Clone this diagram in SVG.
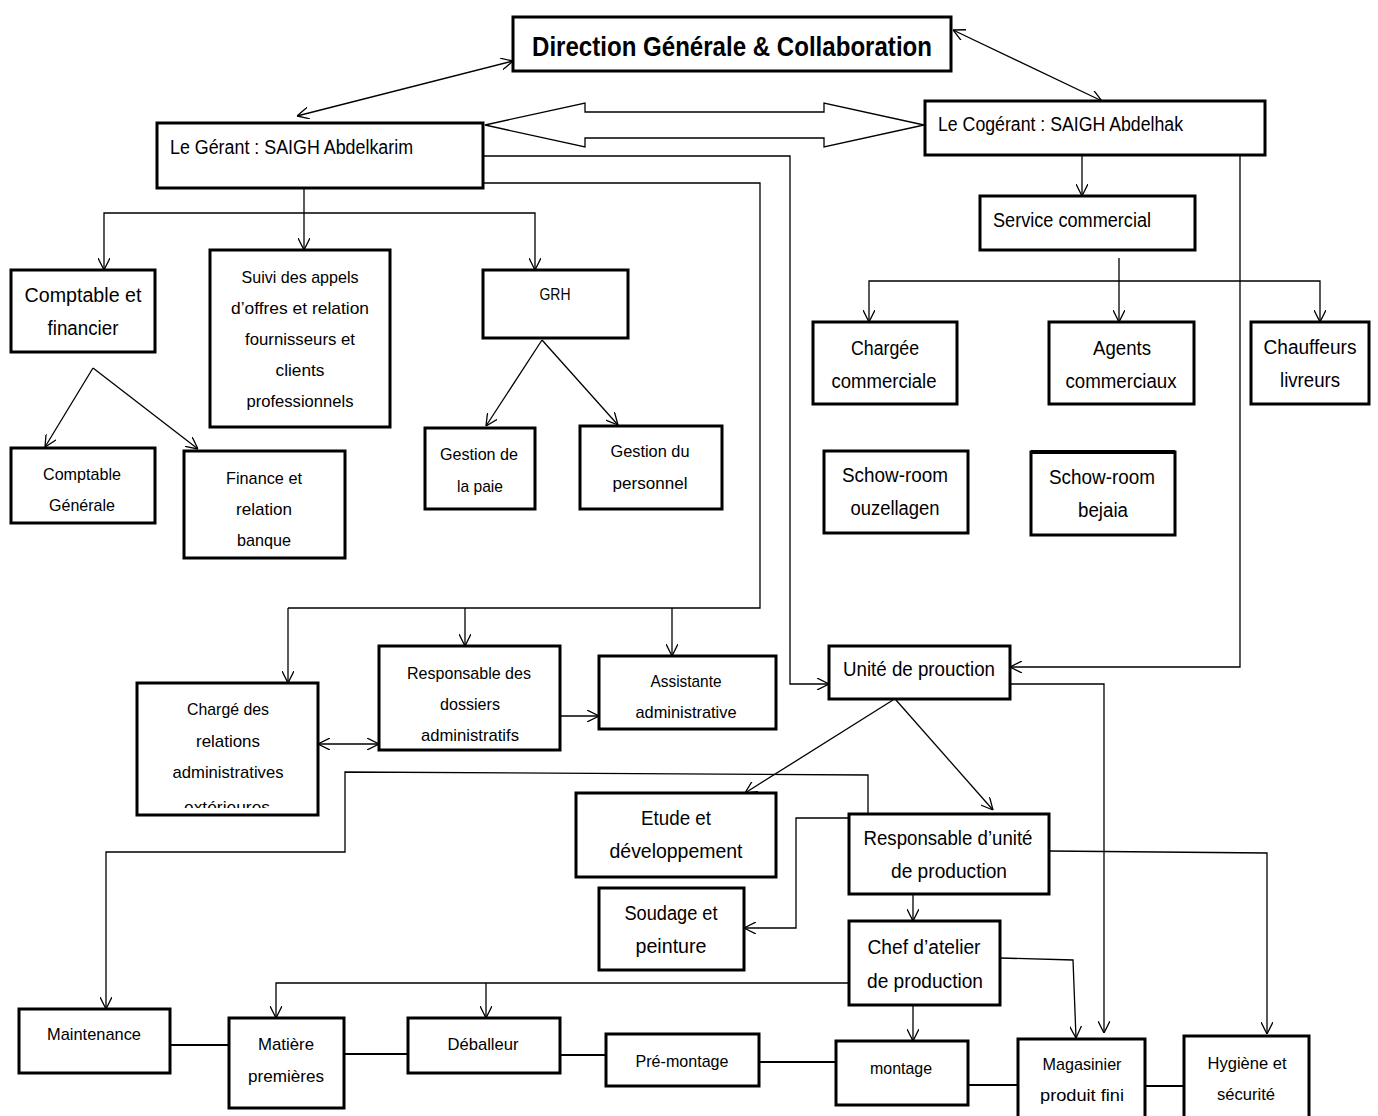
<svg xmlns="http://www.w3.org/2000/svg" width="1378" height="1116" viewBox="0 0 1378 1116">
<style>
.box{fill:#fff;stroke:#000;stroke-width:3}
.c{fill:none;stroke:#000;stroke-width:1.3}
.l{fill:none;stroke:#000;stroke-width:2}
text{font-family:"Liberation Sans","DejaVu Sans",sans-serif;fill:#000}
.t20{font-size:20px}
.t17{font-size:17px}
.m{text-anchor:middle}
</style>
<defs>
<marker id="a" viewBox="0 0 12 12" refX="12" refY="6" markerWidth="12" markerHeight="12" markerUnits="userSpaceOnUse" orient="auto-start-reverse">
<path d="M0,0 L12,6 L0,12" fill="none" stroke="#000" stroke-width="1.3"/>
</marker>
<clipPath id="clipExt"><rect x="137" y="780" width="181" height="28"/></clipPath>
</defs>
<rect width="1378" height="1116" fill="#fff"/>

<g id="connectors">
<line class="c" x1="513" y1="61" x2="297" y2="116" marker-start="url(#a)" marker-end="url(#a)"/>
<line class="c" x1="953" y1="30" x2="1102" y2="101" marker-start="url(#a)" marker-end="url(#a)"/>
<polygon class="c" points="485,125 585,103 585,112 824,112 824,103 924,125 824,147 824,138 585,138 585,147"/>
<polyline class="c" points="483,156 790,156 790,684 829,684" marker-end="url(#a)"/>
<polyline class="c" points="483,183 760,183 760,608 288,608"/>
<line class="c" x1="288" y1="608" x2="288" y2="683" marker-end="url(#a)"/>
<line class="c" x1="465" y1="608" x2="465" y2="646" marker-end="url(#a)"/>
<line class="c" x1="672" y1="608" x2="672" y2="656" marker-end="url(#a)"/>
<line class="c" x1="304" y1="188" x2="304" y2="250" marker-end="url(#a)"/>
<polyline class="c" points="104,270 104,213 535,213 535,270" marker-start="url(#a)" marker-end="url(#a)"/>
<line class="c" x1="93" y1="368" x2="45" y2="447" marker-end="url(#a)"/>
<line class="c" x1="93" y1="368" x2="198" y2="449" marker-end="url(#a)"/>
<line class="c" x1="542" y1="340" x2="486" y2="426" marker-end="url(#a)"/>
<line class="c" x1="542" y1="340" x2="618" y2="425" marker-end="url(#a)"/>
<line class="c" x1="1082" y1="155" x2="1082" y2="196" marker-end="url(#a)"/>
<polyline class="c" points="1240,155 1240,667 1010,667" marker-end="url(#a)"/>
<line class="c" x1="1119" y1="258" x2="1119" y2="322" marker-end="url(#a)"/>
<polyline class="c" points="869,322 869,281 1320,281 1320,322" marker-start="url(#a)" marker-end="url(#a)"/>
<polyline class="c" points="1010,684 1104,684 1104,1033" marker-end="url(#a)"/>
<line class="c" x1="893" y1="700" x2="745" y2="793" marker-end="url(#a)"/>
<line class="c" x1="896" y1="700" x2="993" y2="810" marker-end="url(#a)"/>
<polyline class="c" points="868,814 868,775 345,772 345,852 106,852 106,1009" marker-end="url(#a)"/>
<polyline class="c" points="849,818 796,818 796,928 744,928" marker-end="url(#a)"/>
<polyline class="c" points="1049,851 1267,853 1267,1034" marker-end="url(#a)"/>
<line class="c" x1="913" y1="894" x2="913" y2="921" marker-end="url(#a)"/>
<polyline class="c" points="1000,958 1073,960 1076,1038" marker-end="url(#a)"/>
<polyline class="c" points="849,983 276,983 276,1018" marker-end="url(#a)"/>
<line class="c" x1="486" y1="983" x2="486" y2="1018" marker-end="url(#a)"/>
<line class="c" x1="913" y1="1005" x2="913" y2="1041" marker-end="url(#a)"/>
<line class="c" x1="318" y1="744" x2="379" y2="744" marker-start="url(#a)" marker-end="url(#a)"/>
<line class="c" x1="560" y1="716" x2="599" y2="716" marker-end="url(#a)"/>
<line class="l" x1="170" y1="1045" x2="229" y2="1045"/>
<line class="l" x1="344" y1="1054" x2="408" y2="1054"/>
<line class="l" x1="560" y1="1055" x2="606" y2="1055"/>
<line class="l" x1="759" y1="1062" x2="836" y2="1062"/>
<line class="l" x1="968" y1="1085" x2="1018" y2="1085"/>
<line class="l" x1="1145" y1="1086" x2="1184" y2="1086"/>
</g>

<g id="direction"><rect class="box" x="513" y="17" width="438" height="54"/><text x="732" y="56" class="m" font-size="27" font-weight="bold" textLength="400" lengthAdjust="spacingAndGlyphs">Direction Générale &amp; Collaboration</text></g>
<g id="gerant"><rect class="box" x="157" y="123" width="326" height="65"/><text x="170" y="154" class="t20" textLength="243" lengthAdjust="spacingAndGlyphs">Le Gérant : SAIGH Abdelkarim</text></g>
<g id="cogerant"><rect class="box" x="925" y="101" width="340" height="54"/><text x="938" y="131" class="t20" textLength="245" lengthAdjust="spacingAndGlyphs">Le Cogérant : SAIGH Abdelhak</text></g>
<g id="service-commercial"><rect class="box" x="980" y="196" width="215" height="54"/><text x="993" y="227" class="t20" textLength="158" lengthAdjust="spacingAndGlyphs">Service commercial</text></g>
<g id="comptable-financier"><rect class="box" x="11" y="270" width="144" height="82"/><text x="83" y="302" class="t20 m" textLength="117" lengthAdjust="spacingAndGlyphs">Comptable  et</text><text x="83" y="335" class="t20 m" textLength="71" lengthAdjust="spacingAndGlyphs">financier</text></g>
<g id="suivi"><rect class="box" x="210" y="250" width="180" height="177"/>
<text x="300" y="283" class="t17 m" textLength="117" lengthAdjust="spacingAndGlyphs">Suivi des appels</text>
<text x="300" y="314" class="t17 m" textLength="138" lengthAdjust="spacingAndGlyphs">d’offres et relation</text>
<text x="300" y="345" class="t17 m" textLength="110" lengthAdjust="spacingAndGlyphs">fournisseurs et</text>
<text x="300" y="376" class="t17 m" textLength="49" lengthAdjust="spacingAndGlyphs">clients</text>
<text x="300" y="407" class="t17 m" textLength="107" lengthAdjust="spacingAndGlyphs">professionnels</text></g>
<g id="grh"><rect class="box" x="483" y="270" width="145" height="68"/><text x="555" y="300" class="t17 m" textLength="31" lengthAdjust="spacingAndGlyphs">GRH</text></g>
<g id="comptable-generale"><rect class="box" x="11" y="448" width="144" height="75"/><text x="82" y="480" class="t17 m" textLength="78" lengthAdjust="spacingAndGlyphs">Comptable</text><text x="82" y="511" class="t17 m" textLength="66" lengthAdjust="spacingAndGlyphs">Générale</text></g>
<g id="finance-banque"><rect class="box" x="184" y="451" width="161" height="107"/><text x="264" y="484" class="t17 m" textLength="76" lengthAdjust="spacingAndGlyphs">Finance et</text><text x="264" y="515" class="t17 m" textLength="56" lengthAdjust="spacingAndGlyphs">relation</text><text x="264" y="546" class="t17 m" textLength="54" lengthAdjust="spacingAndGlyphs">banque</text></g>
<g id="gestion-paie"><rect class="box" x="425" y="428" width="110" height="81"/><text x="479" y="460" class="t17 m" textLength="78" lengthAdjust="spacingAndGlyphs">Gestion de</text><text x="480" y="492" class="t17 m" textLength="46" lengthAdjust="spacingAndGlyphs">la paie</text></g>
<g id="gestion-personnel"><rect class="box" x="580" y="426" width="142" height="83"/><text x="650" y="457" class="t17 m" textLength="79" lengthAdjust="spacingAndGlyphs">Gestion du</text><text x="650" y="489" class="t17 m" textLength="75" lengthAdjust="spacingAndGlyphs">personnel</text></g>
<g id="chargee-commerciale"><rect class="box" x="813" y="322" width="144" height="82"/><text x="885" y="355" class="t20 m" textLength="68" lengthAdjust="spacingAndGlyphs">Chargée</text><text x="884" y="388" class="t20 m" textLength="105" lengthAdjust="spacingAndGlyphs">commerciale</text></g>
<g id="agents-commerciaux"><rect class="box" x="1049" y="322" width="145" height="82"/><text x="1122" y="355" class="t20 m" textLength="58" lengthAdjust="spacingAndGlyphs">Agents</text><text x="1121" y="388" class="t20 m" textLength="111" lengthAdjust="spacingAndGlyphs">commerciaux</text></g>
<g id="chauffeurs-livreurs"><rect class="box" x="1251" y="322" width="118" height="82"/><text x="1310" y="354" class="t20 m" textLength="93" lengthAdjust="spacingAndGlyphs">Chauffeurs</text><text x="1310" y="387" class="t20 m" textLength="60" lengthAdjust="spacingAndGlyphs">livreurs</text></g>
<g id="showroom-ouzellagen"><rect class="box" x="824" y="451" width="144" height="82"/><text x="895" y="482" class="t20 m" textLength="106" lengthAdjust="spacingAndGlyphs">Schow-room</text><text x="895" y="515" class="t20 m" textLength="89" lengthAdjust="spacingAndGlyphs">ouzellagen</text></g>
<g id="showroom-bejaia"><rect class="box" x="1031" y="452" width="144" height="83"/><line x1="1031" y1="452" x2="1175" y2="452" stroke="#000" stroke-width="4"/><text x="1102" y="484" class="t20 m" textLength="106" lengthAdjust="spacingAndGlyphs">Schow-room</text><text x="1103" y="517" class="t20 m" textLength="50" lengthAdjust="spacingAndGlyphs">bejaia</text></g>
<g id="charge-relations"><rect class="box" x="137" y="683" width="181" height="132"/>
<text x="228" y="715" class="t17 m" textLength="82" lengthAdjust="spacingAndGlyphs">Chargé des</text>
<text x="228" y="747" class="t17 m" textLength="64" lengthAdjust="spacingAndGlyphs">relations</text>
<text x="228" y="778" class="t17 m" textLength="111" lengthAdjust="spacingAndGlyphs">administratives</text>
<text x="227" y="813" class="t17 m" textLength="86" lengthAdjust="spacingAndGlyphs" clip-path="url(#clipExt)">extérieures</text></g>
<g id="responsable-dossiers"><rect class="box" x="379" y="646" width="181" height="104"/><text x="469" y="679" class="t17 m" textLength="124" lengthAdjust="spacingAndGlyphs">Responsable des</text><text x="470" y="710" class="t17 m" textLength="60" lengthAdjust="spacingAndGlyphs">dossiers</text><text x="470" y="741" class="t17 m" textLength="98" lengthAdjust="spacingAndGlyphs">administratifs</text></g>
<g id="assistante"><rect class="box" x="599" y="656" width="177" height="73"/><text x="686" y="687" class="t17 m" textLength="71" lengthAdjust="spacingAndGlyphs">Assistante</text><text x="686" y="718" class="t17 m" textLength="101" lengthAdjust="spacingAndGlyphs">administrative</text></g>
<g id="unite-production"><rect class="box" x="829" y="646" width="181" height="53"/><text x="919" y="676" class="t20 m" textLength="152" lengthAdjust="spacingAndGlyphs">Unité de prouction</text></g>
<g id="etude"><rect class="box" x="576" y="793" width="200" height="84"/><text x="676" y="825" class="t20 m" textLength="70" lengthAdjust="spacingAndGlyphs">Etude et</text><text x="676" y="858" class="t20 m" textLength="133" lengthAdjust="spacingAndGlyphs">développement</text></g>
<g id="responsable-unite"><rect class="box" x="849" y="814" width="200" height="80"/><text x="948" y="845" class="t20 m" textLength="169" lengthAdjust="spacingAndGlyphs">Responsable d’unité</text><text x="949" y="878" class="t20 m" textLength="116" lengthAdjust="spacingAndGlyphs">de production</text></g>
<g id="soudage"><rect class="box" x="599" y="888" width="145" height="82"/><text x="671" y="920" class="t20 m" textLength="93" lengthAdjust="spacingAndGlyphs">Soudage et</text><text x="671" y="953" class="t20 m" textLength="71" lengthAdjust="spacingAndGlyphs">peinture</text></g>
<g id="chef-atelier"><rect class="box" x="849" y="921" width="151" height="84"/><text x="924" y="954" class="t20 m" textLength="113" lengthAdjust="spacingAndGlyphs">Chef d’atelier</text><text x="925" y="988" class="t20 m" textLength="116" lengthAdjust="spacingAndGlyphs">de production</text></g>
<g id="maintenance"><rect class="box" x="19" y="1009" width="151" height="64"/><text x="94" y="1040" class="t17 m" textLength="94" lengthAdjust="spacingAndGlyphs">Maintenance</text></g>
<g id="matiere"><rect class="box" x="229" y="1018" width="115" height="90"/><text x="286" y="1050" class="t17 m" textLength="56" lengthAdjust="spacingAndGlyphs">Matière</text><text x="286" y="1082" class="t17 m" textLength="76" lengthAdjust="spacingAndGlyphs">premières</text></g>
<g id="deballeur"><rect class="box" x="408" y="1018" width="152" height="55"/><text x="483" y="1050" class="t17 m" textLength="71" lengthAdjust="spacingAndGlyphs">Déballeur</text></g>
<g id="pre-montage"><rect class="box" x="606" y="1034" width="153" height="52"/><text x="682" y="1067" class="t17 m" textLength="93" lengthAdjust="spacingAndGlyphs">Pré-montage</text></g>
<g id="montage"><rect class="box" x="836" y="1041" width="132" height="64"/><text x="901" y="1074" class="t17 m" textLength="62" lengthAdjust="spacingAndGlyphs">montage</text></g>
<g id="magasinier"><rect class="box" x="1018" y="1039" width="127" height="90"/><text x="1082" y="1070" class="t17 m" textLength="79" lengthAdjust="spacingAndGlyphs">Magasinier</text><text x="1082" y="1101" class="t17 m" textLength="84" lengthAdjust="spacingAndGlyphs">produit fini</text></g>
<g id="hygiene"><rect class="box" x="1184" y="1036" width="125" height="93"/><text x="1247" y="1069" class="t17 m" textLength="79" lengthAdjust="spacingAndGlyphs">Hygiène et</text><text x="1246" y="1100" class="t17 m" textLength="58" lengthAdjust="spacingAndGlyphs">sécurité</text></g>
</svg>
